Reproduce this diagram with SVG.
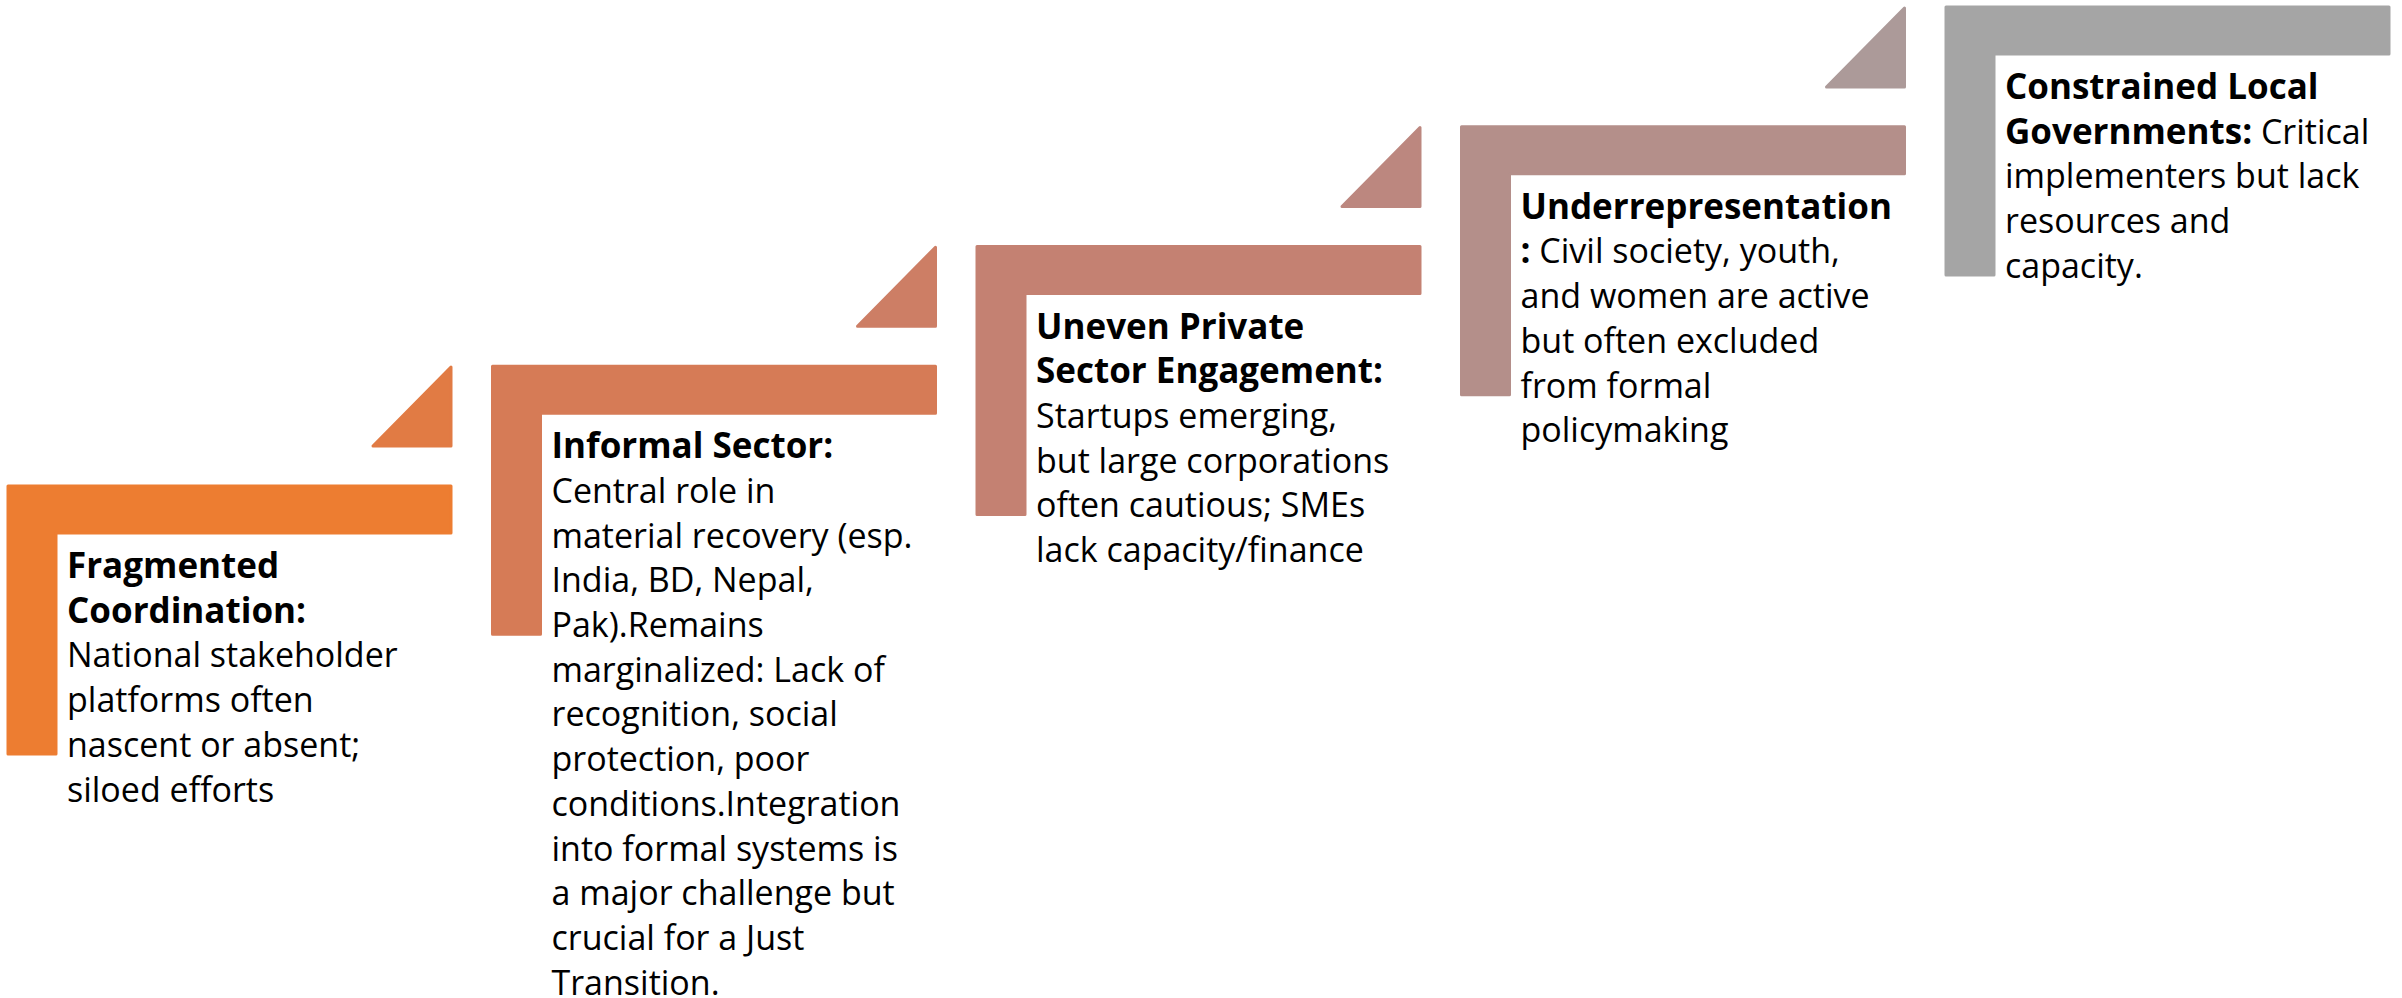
<svg xmlns="http://www.w3.org/2000/svg" width="2402" height="998" viewBox="0 0 2402 998">
<style>
  .sh { stroke-width: 3; stroke-linejoin: round; }
  .t { font-family: "Open Sans", "Liberation Sans", sans-serif; font-size: 34px; fill: #000; }
  .b { font-weight: bold; font-size: 35px; }
</style>
<rect width="2402" height="998" fill="#fff"/>
<g id="step1">
  <path class="sh" d="M8,486 H451 V533 H56 V754 H8 Z" fill="#ED7D31" stroke="#ED7D31"/>
  <text class="t" x="67" y="578">
    <tspan class="b" x="67" y="578">Fragmented</tspan>
    <tspan class="b" x="67" dy="44.7">Coordination:</tspan>
    <tspan x="67" dy="44.7">National stakeholder</tspan>
    <tspan x="67" dy="44.7">platforms often</tspan>
    <tspan x="67" dy="44.7">nascent or absent;</tspan>
    <tspan x="67" dy="44.7">siloed efforts</tspan>
  </text>
</g>
<g id="arrow1">
  <path class="sh" d="M373,446 L451,367 V446 Z" fill="#E17B44" stroke="#E17B44"/>
</g>
<g id="step2">
  <path class="sh" d="M492.5,366.25 H935.5 V413.25 H540.5 V634.25 H492.5 Z" fill="#D67B56" stroke="#D67B56"/>
  <text class="t" x="551.5" y="458.25">
    <tspan class="b" x="551.5" y="458.25">Informal Sector:</tspan>
    <tspan x="551.5" dy="44.7">Central role in</tspan>
    <tspan x="551.5" dy="44.7">material recovery (esp.</tspan>
    <tspan x="551.5" dy="44.7">India, BD, Nepal,</tspan>
    <tspan x="551.5" dy="44.7">Pak).Remains</tspan>
    <tspan x="551.5" dy="44.7">marginalized: Lack of</tspan>
    <tspan x="551.5" dy="44.7">recognition, social</tspan>
    <tspan x="551.5" dy="44.7">protection, poor</tspan>
    <tspan x="551.5" dy="44.7">conditions.Integration</tspan>
    <tspan x="551.5" dy="44.7">into formal systems is</tspan>
    <tspan x="551.5" dy="44.7">a major challenge but</tspan>
    <tspan x="551.5" dy="44.7">crucial for a Just</tspan>
    <tspan x="551.5" dy="44.7">Transition.</tspan>
  </text>
</g>
<g id="arrow2">
  <path class="sh" d="M857.5,326.25 L935.5,247.25 V326.25 Z" fill="#CD7E65" stroke="#CD7E65"/>
</g>
<g id="step3">
  <path class="sh" d="M977,246.5 H1420 V293.5 H1025 V514.5 H977 Z" fill="#C48172" stroke="#C48172"/>
  <text class="t" x="1036" y="338.5">
    <tspan class="b" x="1036" y="338.5">Uneven Private</tspan>
    <tspan class="b" x="1036" dy="44.7">Sector Engagement:</tspan>
    <tspan x="1036" dy="44.7">Startups emerging,</tspan>
    <tspan x="1036" dy="44.7">but large corporations</tspan>
    <tspan x="1036" dy="44.7">often cautious; SMEs</tspan>
    <tspan x="1036" dy="44.7">lack capacity/finance</tspan>
  </text>
</g>
<g id="arrow3">
  <path class="sh" d="M1342,206.5 L1420,127.5 V206.5 Z" fill="#BC877F" stroke="#BC877F"/>
</g>
<g id="step4">
  <path class="sh" d="M1461.5,126.75 H1904.5 V173.75 H1509.5 V394.75 H1461.5 Z" fill="#B48F8A" stroke="#B48F8A"/>
  <text class="t" x="1520.5" y="218.75">
    <tspan class="b" x="1520.5" y="218.75">Underrepresentation</tspan>
    <tspan class="b" x="1520.5" dy="44.7">:</tspan><tspan> Civil society, youth,</tspan>
    <tspan x="1520.5" dy="44.7">and women are active</tspan>
    <tspan x="1520.5" dy="44.7">but often excluded</tspan>
    <tspan x="1520.5" dy="44.7">from formal</tspan>
    <tspan x="1520.5" dy="44.7">policymaking</tspan>
  </text>
</g>
<g id="arrow4">
  <path class="sh" d="M1826.5,87 L1904.5,8 V87 Z" fill="#AC9A99" stroke="#AC9A99"/>
</g>
<g id="step5">
  <path class="sh" d="M1946,7 H2389 V54 H1994 V275 H1946 Z" fill="#A5A5A5" stroke="#A5A5A5"/>
  <text class="t" x="2005" y="99">
    <tspan class="b" x="2005" y="99">Constrained Local</tspan>
    <tspan class="b" x="2005" dy="44.7">Governments:</tspan><tspan> Critical</tspan>
    <tspan x="2005" dy="44.7">implementers but lack</tspan>
    <tspan x="2005" dy="44.7">resources and</tspan>
    <tspan x="2005" dy="44.7">capacity.</tspan>
  </text>
</g>
<g id="connectors"></g>
</svg>
